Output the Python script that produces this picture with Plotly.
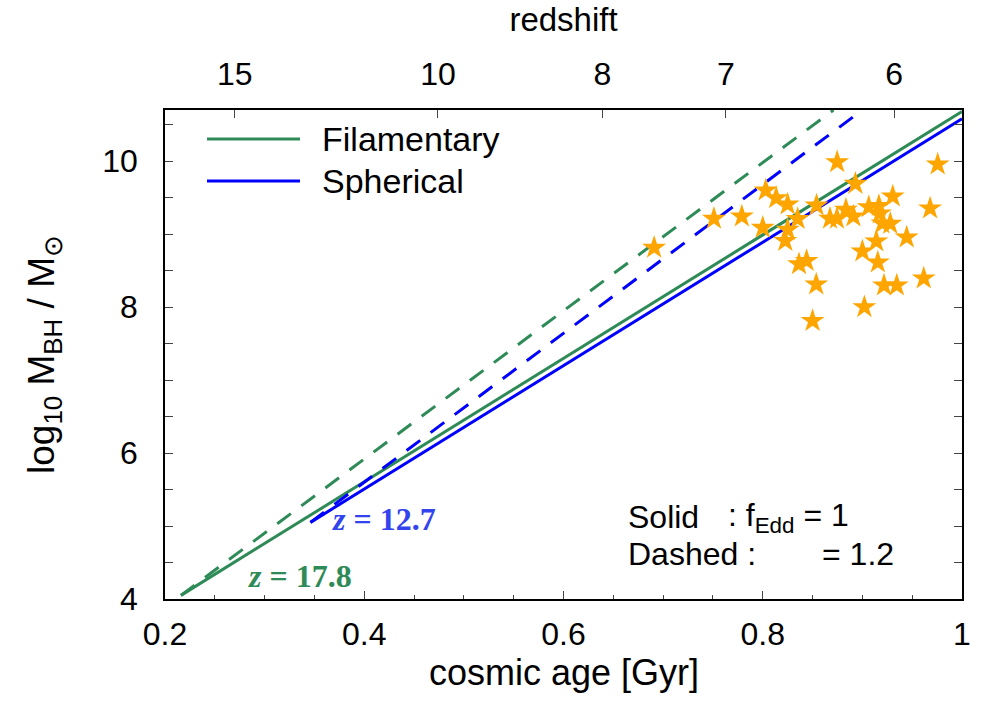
import plotly.graph_objects as go

# ---- data ----
fil_solid_t = [0.216, 1.0]
fil_solid_m = [4.05, 10.68]
fil_dash_t = [0.216, 0.871]
fil_dash_m = [4.05, 10.70]
sph_solid_t = [0.346, 1.0]
sph_solid_m = [5.05, 10.58]
sph_dash_t = [0.346, 0.900]
sph_dash_m = [5.05, 10.70]

quasar_t = [0.691, 0.751, 0.779, 0.803, 0.8135, 0.825, 0.800, 0.825, 0.835, 0.8226,
            0.8747, 0.893, 0.854, 0.8675, 0.8745, 0.8835, 0.891, 0.9064, 0.9166, 0.9176,
            0.9305, 0.920, 0.928, 0.914, 0.9445, 0.900, 0.9155, 0.8364, 0.844, 0.8537,
            0.9217, 0.9345, 0.9616, 0.902, 0.850, 0.9756, 0.968]
quasar_m = [8.814, 9.211, 9.242, 9.599, 9.493, 9.407, 9.088, 9.060, 9.208, 8.907,
            9.986, 9.690, 9.393, 9.211, 9.211, 9.334, 9.242, 9.370, 9.386, 9.284,
            9.516, 9.147, 9.142, 8.900, 8.955, 8.763, 8.612, 8.589, 8.633, 8.311,
            8.297, 8.297, 8.393, 8.000, 7.811, 9.955, 9.352]

redshift_labels = ["15", "10", "8", "7", "6"]
redshift_ages = [0.270, 0.474, 0.639, 0.763, 0.932]

GREEN = "#2E8B57"
BLUE = "#0000FF"
FONT = "Liberation Sans"
DASH = "17px,13px"
LW = 3

fig = go.Figure()
fig.add_trace(go.Scatter(x=fil_solid_t, y=fil_solid_m, mode="lines",
                         line=dict(color=GREEN, width=LW), name="Filamentary"))
fig.add_trace(go.Scatter(x=fil_dash_t, y=fil_dash_m, mode="lines",
                         line=dict(color=GREEN, width=LW, dash=DASH), showlegend=False))
fig.add_trace(go.Scatter(x=sph_solid_t, y=sph_solid_m, mode="lines",
                         line=dict(color=BLUE, width=LW), name="Spherical"))
fig.add_trace(go.Scatter(x=sph_dash_t, y=sph_dash_m, mode="lines",
                         line=dict(color=BLUE, width=LW, dash=DASH), showlegend=False))
fig.add_trace(go.Scatter(x=quasar_t, y=quasar_m, mode="markers",
                         marker=dict(symbol="star", size=18, color="#FFA500",
                                     line=dict(width=0)), showlegend=False))
# invisible trace to carry the top (redshift) axis
fig.add_trace(go.Scatter(x=[0.5], y=[5], xaxis="x2", mode="markers",
                         marker=dict(opacity=0), showlegend=False, hoverinfo="skip"))

tick_common = dict(showgrid=False, zeroline=False,
                   ticks="inside", tickcolor="#444", tickwidth=1.2,
                   tickfont=dict(family=FONT, size=32, color="black"))

fig.update_layout(
    width=985, height=709,
    margin=dict(l=165, r=23, t=110, b=110),
    plot_bgcolor="white", paper_bgcolor="white",
    showlegend=False,
    xaxis=dict(range=[0.2, 1.0], tickvals=[0.2, 0.4, 0.6, 0.8, 1.0],
               ticktext=["0.2", "0.4", "0.6", "0.8", "1"], ticklen=8, mirror=True,
               linecolor="black", linewidth=1.5, ticklabelstandoff=6,
               minor=dict(dtick=0.05, tick0=0.2, ticks="inside", ticklen=4, tickcolor="#444"),
               **tick_common),
    xaxis2=dict(range=[0.2, 1.0], overlaying="x", side="top", anchor="y",
                tickvals=redshift_ages, ticktext=redshift_labels, ticklen=8,
                showline=False, ticklabelstandoff=18,
                title=dict(text="redshift", font=dict(family=FONT, size=33, color="black"),
                           standoff=14),
                **tick_common),
    yaxis=dict(range=[4, 10.7], tickvals=[4, 6, 8, 10], ticklen=8, mirror="allticks",
               linecolor="black", linewidth=1.5, ticklabelstandoff=19,
               minor=dict(dtick=0.5, tick0=4, ticks="inside", ticklen=8, tickcolor="#444"),
               title=dict(text="log<sub>10</sub> M<sub>BH</sub> / M<sub>⊙</sub>",
                          font=dict(family=FONT, size=37, color="black"), standoff=36),
               **tick_common),
)

def px2x(p):
    return (p - 165) / 797
def py2y(p):
    return 1 - (p - 110) / 489

# bottom axis title
fig.add_annotation(xref="paper", yref="paper", x=0.5, y=py2y(672), text="cosmic age [Gyr]",
                   showarrow=False, xanchor="center", yanchor="middle",
                   font=dict(family=FONT, size=36, color="black"))

# manual legend (line samples + labels)
legend_items = [("Filamentary", GREEN, 139), ("Spherical", BLUE, 181)]
for label, col, ypx in legend_items:
    fig.add_shape(type="line", xref="paper", yref="paper",
                  x0=px2x(207), x1=px2x(300), y0=py2y(ypx), y1=py2y(ypx),
                  line=dict(color=col, width=LW))
    fig.add_annotation(xref="paper", yref="paper", x=px2x(320), y=py2y(ypx),
                       text=label, showarrow=False, xanchor="left", yanchor="middle",
                       font=dict(family=FONT, size=34, color="black"))

# redshift labels on curves
fig.add_annotation(x=0.366, y=5.09, text="<i>z</i> = 12.7", showarrow=False,
                   xanchor="left", yanchor="middle",
                   font=dict(family="Liberation Serif", size=32, color="#3344EE", weight="bold"))
fig.add_annotation(x=0.281, y=4.32, text="<i>z</i> = 17.8", showarrow=False,
                   xanchor="left", yanchor="middle",
                   font=dict(family="Liberation Serif", size=32, color=GREEN, weight="bold"))

# f_Edd note
note_font = dict(family=FONT, size=32, color="black")
fig.add_annotation(xref="paper", yref="paper", x=px2x(626), y=py2y(517), text="Solid",
                   showarrow=False, xanchor="left", yanchor="middle", font=note_font)
fig.add_annotation(xref="paper", yref="paper", x=px2x(726), y=py2y(517),
                   text=": f<sub>Edd</sub> = 1",
                   showarrow=False, xanchor="left", yanchor="middle", font=note_font)
fig.add_annotation(xref="paper", yref="paper", x=px2x(626), y=py2y(554), text="Dashed :",
                   showarrow=False, xanchor="left", yanchor="middle", font=note_font)
fig.add_annotation(xref="paper", yref="paper", x=px2x(820), y=py2y(554), text="= 1.2",
                   showarrow=False, xanchor="left", yanchor="middle", font=note_font)

fig.write_html("out.html")
